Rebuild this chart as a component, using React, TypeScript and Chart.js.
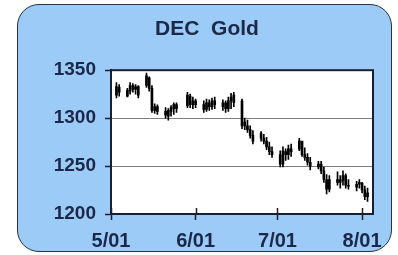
import React, { useEffect, useRef } from "react";
import { Chart, registerables } from "chart.js";

Chart.register(...registerables);

// Trading days as day offsets from May 1 (2018 calendar)
const tradeDays = [
  2, 3, 6, 7, 8, 9, 10, 13, 14, 15, 16, 17, 20, 21, 22, 23, 24, 28, 29, 30, 31,
  34, 35, 36, 37, 38, 41, 42, 43, 44, 45, 48, 49, 50, 51, 52, 55, 56, 57, 58, 59,
  62, 63, 64, 65, 66, 69, 70, 71, 72, 73, 76, 77, 78, 79, 80, 83, 84, 85, 86, 87,
  90, 91, 92, 93, 94,
];
const highs = [
  1337, 1335, 1331, 1337, 1336, 1335, 1334, 1347, 1343, 1334, 1315, 1314, 1311, 1310, 1313, 1316, 1316, 1327, 1325, 1322, 1320,
  1318, 1320, 1319, 1321, 1322, 1319, 1318, 1322, 1326, 1327, 1320, 1300, 1298, 1292, 1287, 1286, 1283, 1280, 1275, 1270,
  1266, 1270, 1268, 1272, 1273, 1279, 1275, 1269, 1263, 1259, 1255, 1255, 1249, 1241, 1240, 1244, 1240, 1245, 1242, 1236,
  1234, 1236, 1233, 1229, 1227,
];
const lows = [
  1321, 1323, 1322, 1325, 1327, 1325, 1321, 1332, 1328, 1306, 1305, 1304, 1300, 1298, 1302, 1304, 1306, 1311, 1311, 1310, 1311,
  1306, 1307, 1308, 1309, 1310, 1308, 1306, 1307, 1310, 1312, 1289, 1288, 1285, 1279, 1273, 1276, 1273, 1267, 1262, 1259,
  1249, 1249, 1256, 1257, 1260, 1266, 1260, 1256, 1251, 1246, 1247, 1242, 1233, 1221, 1223, 1230, 1227, 1230, 1227, 1226,
  1224, 1227, 1222, 1215, 1213,
];
const opens = [
  1324, 1332, 1323, 1328, 1334, 1330, 1333, 1334, 1342, 1331, 1308, 1312, 1307, 1302, 1307, 1310, 1314, 1313, 1323, 1314, 1318,
  1314, 1309, 1316, 1312, 1318, 1312, 1316, 1310, 1318, 1316, 1318, 1296, 1292, 1288, 1282, 1284, 1279, 1276, 1270, 1265,
  1262, 1252, 1265, 1262, 1268, 1268, 1276, 1262, 1259, 1254, 1249, 1252, 1245, 1236, 1226, 1236, 1233, 1235, 1240, 1230,
  1228, 1231, 1232, 1225, 1218,
];
const closes = [
  1333, 1327, 1329, 1334, 1330, 1333, 1324, 1344, 1331, 1308, 1312, 1307, 1303, 1308, 1311, 1314, 1310, 1324, 1314, 1318, 1314,
  1309, 1316, 1312, 1318, 1314, 1316, 1310, 1318, 1322, 1324, 1292, 1292, 1288, 1282, 1276, 1279, 1276, 1270, 1265, 1262,
  1252, 1266, 1262, 1268, 1265, 1276, 1262, 1259, 1254, 1250, 1252, 1245, 1236, 1226, 1236, 1233, 1236, 1240, 1230, 1229,
  1231, 1233, 1225, 1218, 1222,
];

const xTickDays = [0, 31, 61, 92];
const xTickLabels = ["5/01", "6/01", "7/01", "8/01"];
const yTicks = [1200, 1250, 1300, 1350];
const titleText = "DEC  Gold";

const TEXT = "#1b2848";
const FONT = "'Liberation Sans', Arial, sans-serif";

const plotFrame = {
  id: "plotFrame",
  beforeDraw(chart: any) {
    const { ctx, chartArea: a } = chart;
    ctx.save();
    ctx.fillStyle = "#ffffff";
    ctx.fillRect(a.left, a.top, a.right - a.left, a.bottom - a.top);
    ctx.restore();
  },
  afterDraw(chart: any) {
    const { ctx, chartArea: a } = chart;
    const xs = chart.scales.x;
    ctx.save();
    ctx.strokeStyle = "#1a1f2e";
    ctx.lineWidth = 2;
    ctx.strokeRect(a.left, a.top, a.right - a.left, a.bottom - a.top);
    ctx.lineWidth = 1.5;
    xs.ticks.forEach((t: any) => {
      const px = Math.round(xs.getPixelForValue(t.value)) + 0.5;
      ctx.beginPath();
      ctx.moveTo(px, a.bottom - 6);
      ctx.lineTo(px, a.bottom);
      ctx.stroke();
    });
    ctx.restore();
  },
};

export default function App() {
  const ref = useRef<HTMLCanvasElement | null>(null);

  useEffect(() => {
    if (!ref.current) return;
    const wickData = tradeDays.map((d, i) => ({ x: d, y: [lows[i], highs[i]] }));
    const bodyData = tradeDays.map((d, i) => ({
      x: d,
      y: [Math.min(opens[i], closes[i]), Math.max(opens[i], closes[i]) + 0.01],
    }));
    const chart = new Chart(ref.current, {
      type: "bar",
      data: {
        datasets: [
          {
            data: wickData as any,
            backgroundColor: "#000000",
            borderWidth: 0,
            barThickness: 1,
            grouped: false,
          } as any,
          {
            data: bodyData as any,
            backgroundColor: "#000000",
            borderWidth: 0,
            barThickness: 2,
            grouped: false,
          } as any,
        ],
      },
      options: {
        responsive: false,
        animation: false,
        events: [],
        layout: { padding: { left: 41, right: 25, top: 0, bottom: 0 } },
        plugins: {
          legend: { display: false },
          tooltip: { enabled: false },
          title: {
            display: true,
            text: titleText,
            color: TEXT,
            font: { family: FONT, size: 21, weight: "bold" },
            padding: { top: 17, bottom: 28 },
          },
        },
        scales: {
          x: {
            type: "linear",
            min: 0,
            max: 96,
            offset: false,
            afterBuildTicks: (scale: any) => {
              scale.ticks = xTickDays.map((v) => ({ value: v }));
            },
            afterFit: (scale: any) => {
              scale.height = 41;
            },
            ticks: {
              autoSkip: false,
              maxRotation: 0,
              padding: 9,
              color: TEXT,
              font: { family: FONT, size: 20, weight: "bold" },
              callback: (v: any) => {
                const i = xTickDays.indexOf(Number(v));
                return i >= 0 ? xTickLabels[i] : "";
              },
            },
            grid: {
              offset: false,
              drawOnChartArea: false,
              tickLength: 6,
              tickColor: "#1a1f2e",
              tickWidth: 1.5,
            },
            border: { color: "#1a1f2e", width: 2 },
          },
          y: {
            min: 1200,
            max: 1350,
            afterBuildTicks: (scale: any) => {
              scale.ticks = yTicks.map((v) => ({ value: v }));
            },
            afterFit: (scale: any) => {
              scale.width = 70;
            },
            ticks: {
              padding: 9,
              color: TEXT,
              font: { family: FONT, size: 19, weight: "bold" },
              callback: (v: any) => String(v),
            },
            grid: {
              color: "#7f7f7f",
              lineWidth: 1,
              tickLength: 6,
              tickColor: "#1a1f2e",
              tickWidth: 1.5,
            },
            border: { color: "#1a1f2e", width: 2 },
          },
        },
      } as any,
      plugins: [plotFrame],
    });
    return () => chart.destroy();
  }, []);

  return (
    <div
      style={{
        position: "absolute",
        left: 0,
        top: 0,
        width: 398,
        height: 255,
        background: "#ffffff",
        overflow: "hidden",
      }}
    >
      <div
        style={{
          position: "absolute",
          left: 17,
          top: 4,
          width: 375,
          height: 248,
          boxSizing: "border-box",
          border: "1.5px solid #2b3142",
          borderRadius: 22,
          background: "#9dcbf7",
        }}
      />
      <canvas
        ref={ref}
        width={398}
        height={255}
        style={{ position: "absolute", left: 0, top: 0, width: 398, height: 255, display: "block" }}
      />
    </div>
  );
}
